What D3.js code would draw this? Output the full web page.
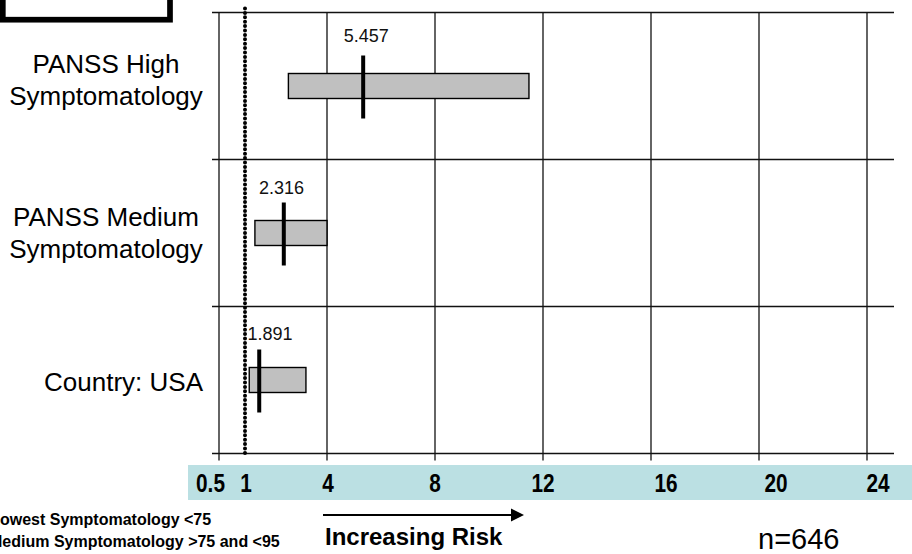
<!DOCTYPE html>
<html>
<head>
<meta charset="utf-8">
<script src="https://cdn.jsdelivr.net/npm/d3@7"></script>
<style>
	body { margin: 0; background: #fff; }
	svg { display: block; font-family: "Liberation Sans", Arial, sans-serif; }
</style>
</head>
<body>
<svg id="chart" width="912" height="554"></svg>
<script>

// rows, top to bottom
var categories = ['PANSS High Symptomatology', 'PANSS Medium Symptomatology', 'Country: USA'];
var labelLines = [['PANSS High', 'Symptomatology'], ['PANSS Medium', 'Symptomatology'], ['Country: USA']];

// odds ratio printed above each bar, and where its mark is drawn
var estimate = ['5.457', '2.316', '1.891'];
var markAt = [5.34, 2.40, 1.49];

// confidence interval ends
var lower = [2.57, 1.33, 1.12];
var upper = [11.48, 4.0, 3.22];

// axis
var gridValues = [0, 4, 8, 12, 16, 20, 24];
var tickLabels = ['0.5', '1', '4', '8', '12', '16', '20', '24'];
var tickValues = [0.5, 1, 4, 8, 12, 16, 20, 24];
var refValue = 1;

var notes = ['Lowest Symptomatology <75', 'Medium Symptomatology >75 and <95'];
var sampleText = 'n=646';

var svg = d3.select('#chart');
var g = svg.append('g');

var x = d3.scaleLinear()
	.domain([0, 25])
	.range([219, 894]);

var y = d3.scaleBand()
	.domain(categories)
	.range([12.5, 453.5]);

drawBox();
drawGrid();
drawBars();
drawAxisBand();
drawFooter();

function drawBox() {
	g.append('rect')
		.attr('x', 2.8)
		.attr('y', -20)
		.attr('width', 167.2)
		.attr('height', 39.7)
		.style('fill', '#fff')
		.attr('stroke', '#000')
		.attr('stroke-width', 5.7);
}

function drawGrid() {

	// vertical grid lines, ticks run a little past the bottom line
	g.selectAll('line.vgrid')
		.data(gridValues)
		.enter().append('line')
		.attr('class', 'vgrid')
		.attr('x1', function(d) { return x(d); })
		.attr('x2', function(d) { return x(d); })
		.attr('y1', y.range()[0])
		.attr('y2', y.range()[1] + 7)
		.attr('stroke', '#111')
		.attr('stroke-width', 1.3);

	// row separators
	var rows = categories.map(function(c) { return y(c); }).concat([y.range()[1]]);
	g.selectAll('line.hgrid')
		.data(rows)
		.enter().append('line')
		.attr('class', 'hgrid')
		.attr('x1', x(0) - 7)
		.attr('x2', x.range()[1])
		.attr('y1', function(d) { return d; })
		.attr('y2', function(d) { return d; })
		.attr('stroke', '#111')
		.attr('stroke-width', 1.3);

	// OR = 1 reference
	g.append('line')
		.attr('x1', x(refValue) - 1)
		.attr('x2', x(refValue) - 1)
		.attr('y1', y.range()[0] - 4)
		.attr('y2', y.range()[1] + 3)
		.attr('stroke', '#000')
		.attr('stroke-width', 4)
		.attr('stroke-linecap', 'round')
		.style('stroke-dasharray', '0,4.4');

	// category labels (the top one sits a bit high in the original)
	var shift = [-6, 0, 2];
	categories.forEach(function(c, i) {
		var lines = labelLines[i];
		var cy = y(c) + y.bandwidth() / 2 + shift[i];
		var t = g.append('text')
			.attr('text-anchor', lines.length > 1 ? 'middle' : 'end')
			.attr('x', lines.length > 1 ? 106 : 203)
			.attr('y', cy - (lines.length - 1) * 16 + 9)
			.style('font-size', '26px')
			.style('fill', '#000');
		lines.forEach(function(l, j) {
			t.append('tspan')
				.attr('x', lines.length > 1 ? 106 : 203)
				.attr('dy', j == 0 ? 0 : 32)
				.text(l);
		});
	});
}

function drawBars() {

	var bh = 25;
	var mh = 63;
	var lift = [13, 8, 9];

	g.selectAll('rect.ci')
		.data(categories)
		.enter().append('rect')
		.attr('class', 'ci')
		.attr('x', function(d, i) { return x(lower[i]); })
		.attr('y', function(d) { return y(d) + y.bandwidth() / 2 - bh / 2; })
		.attr('width', function(d, i) { return x(upper[i]) - x(lower[i]); })
		.attr('height', bh)
		.style('fill', '#c0c0c0')
		.attr('stroke', '#000')
		.attr('stroke-width', 1.4);

	g.selectAll('line.est')
		.data(categories)
		.enter().append('line')
		.attr('class', 'est')
		.attr('x1', function(d, i) { return x(markAt[i]); })
		.attr('x2', function(d, i) { return x(markAt[i]); })
		.attr('y1', function(d) { return y(d) + y.bandwidth() / 2 - mh / 2 + 1; })
		.attr('y2', function(d) { return y(d) + y.bandwidth() / 2 + mh / 2 + 1; })
		.attr('stroke', '#000')
		.attr('stroke-width', 4);

	g.selectAll('text.est')
		.data(categories)
		.enter().append('text')
		.attr('class', 'est')
		.attr('x', function(d, i) { return x(+estimate[i]); })
		.attr('y', function(d, i) { return y(d) + y.bandwidth() / 2 - mh / 2 - lift[i]; })
		.attr('text-anchor', 'middle')
		.style('font-size', '18px')
		.style('fill', '#111')
		.text(function(d, i) { return estimate[i]; });
}

function drawAxisBand() {

	g.append('rect')
		.attr('x', 188)
		.attr('y', 465)
		.attr('width', 724)
		.attr('height', 35)
		.style('fill', '#bbe0e3');

	// hand placed labels in the original sit a little off their ticks
	var nudge = [-22, 0, 1, 0, 0, 15, 17, 11];

	g.selectAll('text.tick')
		.data(tickValues)
		.enter().append('text')
		.attr('class', 'tick')
		.attr('text-anchor', 'middle')
		.attr('transform', function(d, i) {
			return 'translate(' + (x(d) + nudge[i]) + ',491.5) scale(0.8,1)';
		})
		.style('font-size', '26px')
		.style('font-weight', 'bold')
		.style('fill', '#000')
		.text(function(d, i) { return tickLabels[i]; });
}

function drawFooter() {

	g.append('text')
		.attr('x', -9.8)
		.attr('y', 525)
		.style('font-size', '16px')
		.style('font-weight', 'bold')
		.text(notes[0]);

	g.append('text')
		.attr('x', -11)
		.attr('y', 547)
		.style('font-size', '16px')
		.style('font-weight', 'bold')
		.text(notes[1]);

	g.append('line')
		.attr('x1', 323)
		.attr('y1', 515)
		.attr('x2', 513)
		.attr('y2', 515)
		.attr('stroke', '#000')
		.attr('stroke-width', 2);

	g.append('polygon')
		.attr('points', '511,508.5 524,515 511,521.5')
		.style('fill', '#000');

	g.append('text')
		.attr('x', 325)
		.attr('y', 545)
		.style('font-size', '24px')
		.style('font-weight', 'bold')
		.text('Increasing Risk');

	g.append('text')
		.attr('x', 758)
		.attr('y', 549)
		.style('font-size', '29px')
		.text(sampleText);
}

</script>
</body>
</html>
